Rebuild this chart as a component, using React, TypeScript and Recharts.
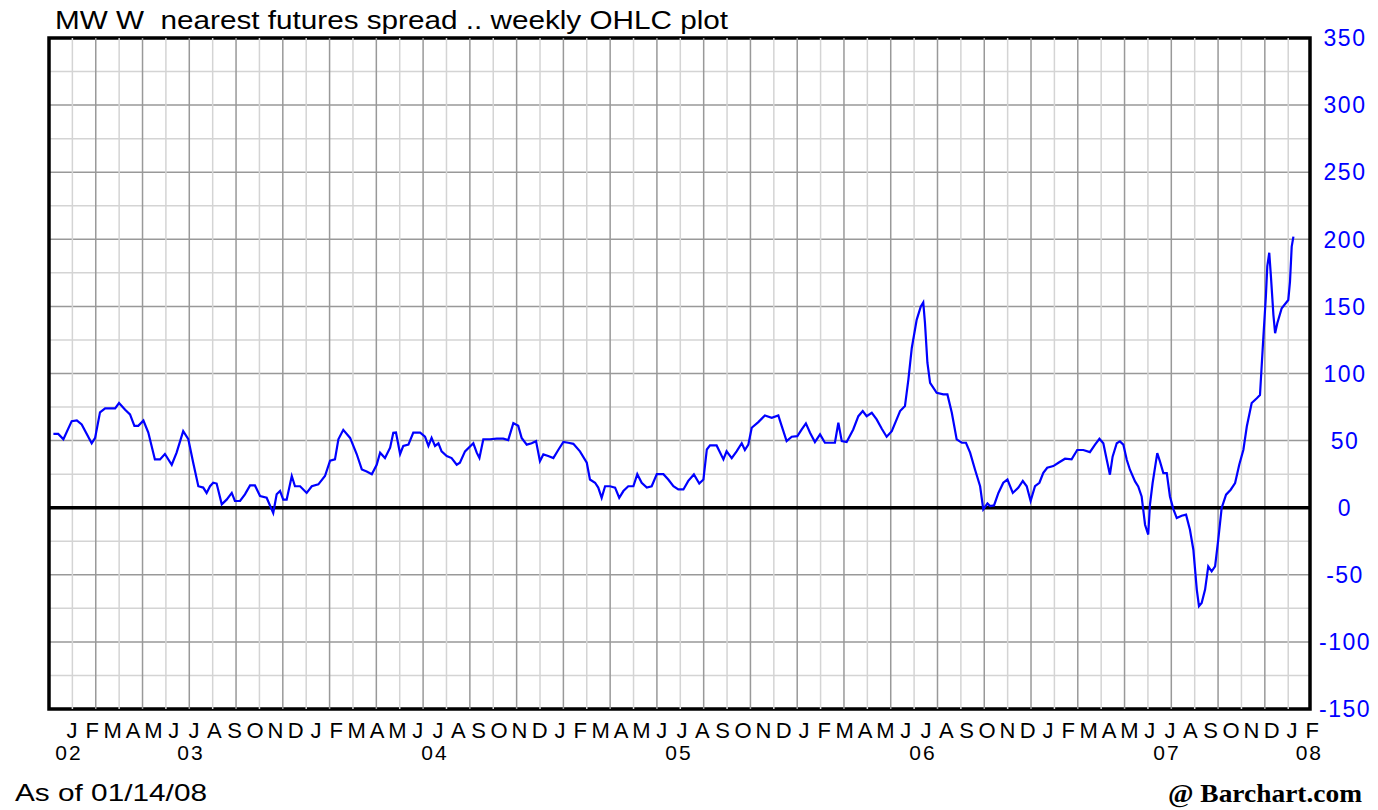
import React from 'react';
import {
  LineChart, Line, XAxis, YAxis, CartesianGrid, ReferenceLine, ReferenceArea,
} from 'recharts';

// ---- data (decimal year of the weekly bar, spread value) ----
const weekDates = [
  2002.936, 2002.956, 2002.977, 2003.011, 2003.032, 2003.052, 2003.093, 2003.107, 2003.127, 2003.148,
  2003.189, 2003.205, 2003.230, 2003.250, 2003.268, 2003.284, 2003.305, 2003.325, 2003.352, 2003.373,
  2003.393, 2003.421, 2003.441, 2003.468, 2003.489, 2003.509, 2003.530, 2003.550, 2003.564, 2003.578,
  2003.591, 2003.605, 2003.626, 2003.646, 2003.667, 2003.680, 2003.701, 2003.721, 2003.742, 2003.762,
  2003.783, 2003.810, 2003.837, 2003.851, 2003.865, 2003.878, 2003.892, 2003.913, 2003.926, 2003.947,
  2003.974, 2003.995, 2004.022, 2004.049, 2004.070, 2004.090, 2004.104, 2004.124, 2004.152,
  2004.179, 2004.200, 2004.220, 2004.241, 2004.261, 2004.275, 2004.295, 2004.316, 2004.329, 2004.340,
  2004.357, 2004.370, 2004.391, 2004.411, 2004.439, 2004.459, 2004.473, 2004.486, 2004.500, 2004.514,
  2004.527, 2004.548, 2004.568, 2004.589, 2004.602, 2004.623, 2004.657, 2004.671, 2004.682, 2004.698,
  2004.725, 2004.753, 2004.780, 2004.800, 2004.821, 2004.841, 2004.855, 2004.876, 2004.896, 2004.914,
  2004.930, 2004.944, 2004.964, 2004.985, 2005.005, 2005.026, 2005.046, 2005.067, 2005.094, 2005.122,
  2005.135, 2005.156, 2005.169, 2005.183, 2005.197, 2005.217, 2005.238, 2005.255, 2005.272, 2005.292,
  2005.313, 2005.329, 2005.347, 2005.368, 2005.388, 2005.409, 2005.436, 2005.456, 2005.477, 2005.497,
  2005.518, 2005.538,
  2005.561, 2005.583, 2005.600, 2005.614, 2005.627, 2005.654, 2005.682, 2005.695, 2005.716, 2005.736,
  2005.757, 2005.770, 2005.784, 2005.798, 2005.825, 2005.852, 2005.880, 2005.907, 2005.921, 2005.941,
  2005.962, 2005.985, 2006.003, 2006.020, 2006.037, 2006.057, 2006.078, 2006.098, 2006.119, 2006.139,
  2006.153, 2006.167, 2006.187, 2006.214, 2006.235, 2006.253, 2006.269, 2006.290, 2006.310, 2006.331,
  2006.351, 2006.372, 2006.392, 2006.406, 2006.426, 2006.440, 2006.454, 2006.474, 2006.491, 2006.501,
  2006.508, 2006.518, 2006.529, 2006.556, 2006.583, 2006.600, 2006.618, 2006.638, 2006.659, 2006.676,
  2006.693, 2006.713, 2006.734, 2006.747, 2006.764, 2006.775, 2006.791, 2006.809, 2006.829, 2006.846,
  2006.868, 2006.891, 2006.909, 2006.925, 2006.941, 2006.959, 2006.977, 2006.993, 2007.009, 2007.034,
  2007.055, 2007.082, 2007.109, 2007.132, 2007.157, 2007.184, 2007.205, 2007.223,
  2007.239, 2007.253, 2007.266, 2007.277, 2007.294, 2007.307, 2007.321, 2007.335, 2007.348, 2007.369,
  2007.382, 2007.396, 2007.410, 2007.423, 2007.430, 2007.441, 2007.460, 2007.471, 2007.485, 2007.499,
  2007.512, 2007.526, 2007.540, 2007.560, 2007.578, 2007.594, 2007.608, 2007.622, 2007.631, 2007.642,
  2007.656, 2007.669, 2007.683, 2007.697, 2007.710, 2007.724, 2007.742, 2007.761, 2007.779, 2007.796,
  2007.813, 2007.827, 2007.847, 2007.868, 2007.881, 2007.895, 2007.905, 2007.911, 2007.919, 2007.926,
  2007.936, 2007.943, 2007.952, 2007.970, 2007.997, 2008.004, 2008.011, 2008.018,
];

const spreadValues = [
  55, 55, 51, 64.5, 65, 62, 48, 52, 71, 74,
  74, 78, 73, 69.5, 61, 61, 65, 56, 36, 36,
  40, 32, 41, 57, 51, 33.5, 16, 15, 11, 16,
  18.6, 18, 2.5, 6, 11, 5, 5, 10, 16.6, 16.6,
  8.7, 7.4, -4, 10, 12.4, 6, 6, 23.6, 16, 16,
  11, 16, 17.4, 23.6, 35, 36, 51, 58, 52,
  40, 28.5, 27, 25, 32, 41, 37, 44.7, 55.8, 56,
  40, 46, 47, 56, 56, 53, 46, 52, 46, 48,
  42, 38.5, 37, 32, 33.5, 42, 48, 41, 37, 51,
  51, 51.4, 51.4, 50.4, 63, 61, 52, 47, 48, 49.6,
  34.7, 39.7, 38.5, 37, 43, 49, 48.4, 47.6, 42, 33.5,
  21, 18.6, 15, 7.4, 16, 16, 15, 7.4, 12.4, 16,
  16, 25, 18.6, 15, 16, 25, 25, 21, 16, 13.6,
  13.6, 20,
  24.8, 18, 21, 43.4, 46.4, 46.4, 36, 42, 37, 42,
  48, 43, 47, 59.6, 63.8, 68.7, 67, 68.7, 60.8, 49.6,
  52.9, 53.3, 58.3, 62.8, 55.8, 48.9, 54.6, 48.4, 48.4, 48.4,
  63.3, 49.6, 48.9, 58.3, 68.2, 72, 68.2, 70.7, 65.8, 58.8,
  52.9, 57, 65.8, 72, 75.7, 95.5, 119, 140, 150, 153,
  137.7, 108, 93, 85.6, 84.4, 84.4, 70.7, 50.9, 48.4, 48.4,
  41, 28.5, 16, -1.2, 3.2, 1.2, 1.7, 11, 18.6, 21,
  11, 15, 19.9, 16, 5, 16, 18.6, 26, 29.8, 31,
  33.5, 36.5, 36, 43, 43, 41.4, 47, 51.4,
  48, 35.7, 24.6, 38, 48, 49.4, 47, 35.7, 28.3, 19.6,
  15.9, 8.4, -12.7, -20, 2.2, 18.4, 40.7, 34.5, 25.8, 25.8,
  8.4, -1, -7.7, -6, -5.2, -16.4, -31.3, -61, -73.4, -71,
  -61, -43.7, -47.4, -43.7, -23.8, -0.2, 9.7, 13.4, 18.4, 32,
  43.2, 60.5, 78, 81.6, 84, 127.5, 157, 180, 190, 172,
  143.7, 130, 137.5, 148.6, 154.8, 168.5, 194.5, 202,
];

// ---- axes / labels ----
const Y_TICKS = [-150, -100, -50, 0, 50, 100, 150, 200, 250, 300, 350];
const Y_MINOR = [-125, -75, -25, 25, 75, 125, 175, 225, 275, 325];
const MONTH_LETTERS = ['J', 'F', 'M', 'A', 'M', 'J', 'J', 'A', 'S', 'O', 'N', 'D'];
const YEAR_LABELS = ['02', '03', '04', '05', '06', '07', '08'];
const YEAR_LABEL_POS = [2002.984, 2003.5, 2004.5, 2005.5, 2006.5, 2007.5, 2008.074];
const TITLE = 'MW W  nearest futures spread .. weekly OHLC plot';
const AS_OF = 'As of 01/14/08';
const CREDIT = '@ Barchart.com';

const X_MIN = 2002.918;
const X_MAX = 2008.086;
const GRID_STEP = 35 / 365.25; // grid line every 5 weekly bars
const FIRST_YEAR = 2003;
const MONTH_COUNT = 62; // Jan 2003 .. Feb 2008

const data = weekDates.map((t, i) => ({ t, v: spreadValues[i] }));
const monthTicks = Array.from({ length: MONTH_COUNT }, (_, i) => FIRST_YEAR + i / 12);
const gridTicks = Array.from({ length: 53 }, (_, k) => ({ x: X_MIN + (k + 1) * GRID_STEP, dark: (k + 1) % 2 === 0 }));

const SANS = '"Liberation Sans", Arial, sans-serif';

const MonthTick = (p: any) => {
  const v = p.payload.value;
  const idx = Math.round((v - FIRST_YEAR) * 12);
  const letter = MONTH_LETTERS[((idx % 12) + 12) % 12];
  const yi = YEAR_LABEL_POS.findIndex((y) => Math.abs(y - v) < 1 / 24);
  return (
    <g>
      <text x={p.x + 3} y={p.y + 29} textAnchor="middle" fontSize={22} fontFamily={SANS} fill="#000">
        {letter}
      </text>
      {yi >= 0 && (
        <text x={p.x} y={p.y + 51} textAnchor="middle" fontSize={21} letterSpacing={2} fontFamily={SANS} fill="#000">
          {YEAR_LABELS[yi]}
        </text>
      )}
    </g>
  );
};

const ValueTick = (p: any) => (
  <text x={p.x + 35} y={p.y} dy="0.36em" textAnchor="middle" fontSize={23} letterSpacing={1.5} fontFamily={SANS} fill="#0000ff">
    {p.payload.value}
  </text>
);

export default function App() {
  return (
    <div style={{ position: 'absolute', left: 0, top: 0, width: 1378, height: 810, background: '#fff' }}>
      <LineChart width={1378} height={810} data={data} margin={{ top: 38, right: 8, bottom: 46, left: 49 }}>
        <XAxis
          xAxisId="m" dataKey="t" type="number" domain={[X_MIN, X_MAX]} allowDataOverflow
          ticks={monthTicks} interval={0} tick={MonthTick} axisLine={false} tickLine={false}
          tickSize={0} tickMargin={0} height={55}
        />
        <YAxis
          yAxisId="v" orientation="right" width={60} type="number" domain={[-150, 350]} allowDataOverflow
          ticks={Y_TICKS} interval={0} tick={ValueTick} axisLine={false} tickLine={false} tickSize={0} tickMargin={0}
        />
        <YAxis yAxisId="v2" type="number" domain={[-150, 350]} allowDataOverflow ticks={Y_MINOR} interval={0} hide />

        <CartesianGrid xAxisId="m" yAxisId="v2" vertical={false} stroke="#d4d4d4" strokeWidth={1.5} />
        <CartesianGrid xAxisId="m" yAxisId="v" vertical={false} stroke="#999999" strokeWidth={1.5} />
        {gridTicks.map((g) => (
          <ReferenceLine
            key={g.x} xAxisId="m" yAxisId="v" x={g.x}
            stroke={g.dark ? '#999999' : '#d4d4d4'} strokeWidth={1.5}
          />
        ))}

        <ReferenceLine xAxisId="m" yAxisId="v" y={0} stroke="#000" strokeWidth={3.5} />
        <Line
          xAxisId="m" yAxisId="v" dataKey="v" type="linear" stroke="#0000ff" strokeWidth={2.2}
          dot={false} activeDot={false} isAnimationActive={false}
        />
        <ReferenceArea
          xAxisId="m" yAxisId="v" x1={X_MIN} x2={X_MAX} y1={-150} y2={350}
          fill="none" fillOpacity={0} stroke="#000" strokeWidth={3.5}
        />
      </LineChart>
      <svg width={1378} height={810} style={{ position: 'absolute', left: 0, top: 0, pointerEvents: 'none' }}>
        <text x={55} y={29} fontSize={25} fontFamily={SANS} textLength={673} lengthAdjust="spacingAndGlyphs" style={{ whiteSpace: 'pre' }} fill="#000">
          {TITLE}
        </text>
        <text x={15} y={801} fontSize={24} fontFamily={SANS} textLength={192} lengthAdjust="spacingAndGlyphs" fill="#000">
          {AS_OF}
        </text>
        <text x={1168} y={802} fontSize={25} fontWeight="bold" fontFamily='"Liberation Serif", "Times New Roman", serif' textLength={194} lengthAdjust="spacingAndGlyphs" fill="#000">
          {CREDIT}
        </text>
      </svg>
    </div>
  );
}
